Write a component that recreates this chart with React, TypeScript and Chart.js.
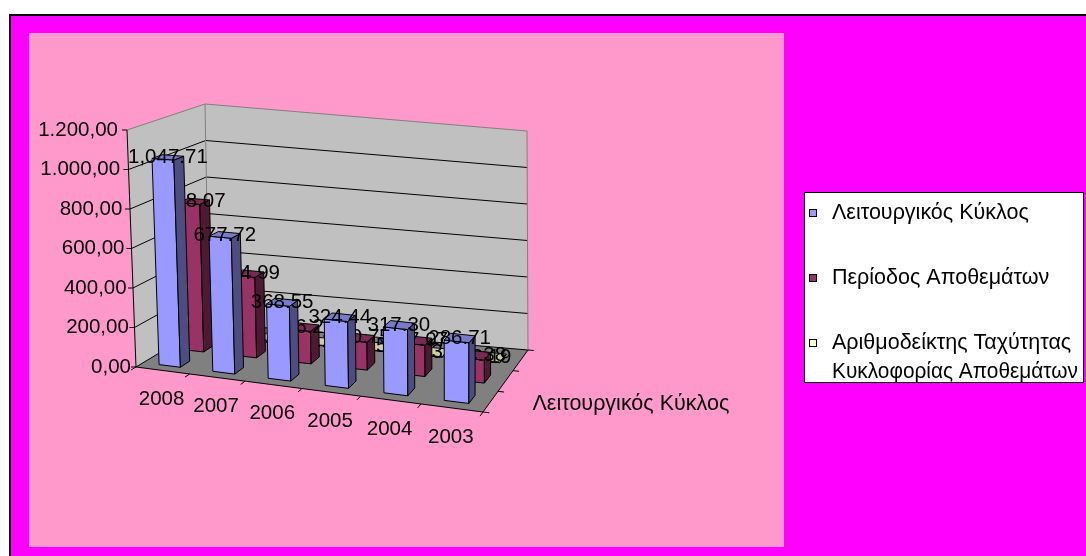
import { useEffect, useRef } from 'react';
import { Chart, registerables } from 'chart.js';

Chart.register(...registerables);

// ---- data ----
const categories = ['2008', '2007', '2006', '2005', '2004', '2003'];
const seriesNames = [
  'Λειτουργικός Κύκλος',
  'Περίοδος Αποθεμάτων',
  'Αριθμοδείκτης Ταχύτητας Κυκλοφορίας Αποθεμάτων',
];
const operatingCycle = [1047.71, 677.72, 368.55, 324.44, 317.3, 286.71];
const inventoryDays = [768.07, 414.99, 166.22, 140.75, 157.07, 114.38];
const inventoryTurnover = [0.48, 0.88, 2.2, 2.59, 2.32, 3.19];
const valueAxisMax = 1200;
const valueAxisStep = 200;

// ---- styles ----
const seriesColors = ['#9999FF', '#993366', '#FFFFCC'];
const W = 1086;
const H = 556;
const NUM_FONT = '20.5px "Liberation Sans", Arial, sans-serif';
const TEXT_FONT = '21.5px "Liberation Sans", Arial, sans-serif';
const WALL = '#C0C0C0';
const FLOOR = '#808080';
const EDGE = '#808080';

// Screen anchors of the eight corners of the 3D plot box
const FRAME = {
  floorFrontLeft: [136, 367],
  floorFrontRight: [483, 412],
  floorBackLeft: [209, 323],
  floorBackRight: [528, 350],
  topFrontLeft: [127, 130],
  topFrontRight: [484, 153],
  topBackLeft: [205, 104],
  topBackRight: [527, 131],
};
// Growth of the category spacing from the left to the right end of the floor
const FORESHORTEN = 0.095;

// X in category units, Y as a fraction of the value axis, Z in series slots (0 = front)
function buildProjection(nx: number, nz: number) {
  const f = FRAME;
  const warp = (X: number) => {
    const t = X / nx;
    return (t + FORESHORTEN * t * t) / (1 + FORESHORTEN);
  };
  const bil = (a: number, b: number, c: number, d: number, u: number, w: number) =>
    a * (1 - u) * (1 - w) + b * u * (1 - w) + c * (1 - u) * w + d * u * w;
  const vFL = [f.topFrontLeft[0] - f.floorFrontLeft[0], f.topFrontLeft[1] - f.floorFrontLeft[1]];
  const vFR = [f.topFrontRight[0] - f.floorFrontRight[0], f.topFrontRight[1] - f.floorFrontRight[1]];
  const vBL = [f.topBackLeft[0] - f.floorBackLeft[0], f.topBackLeft[1] - f.floorBackLeft[1]];
  const vBR = [f.topBackRight[0] - f.floorBackRight[0], f.topBackRight[1] - f.floorBackRight[1]];
  return (X: number, Y: number, Z: number): [number, number] => {
    const u = warp(X);
    const w = Z / nz;
    const px = bil(f.floorFrontLeft[0], f.floorFrontRight[0], f.floorBackLeft[0], f.floorBackRight[0], u, w);
    const py = bil(f.floorFrontLeft[1], f.floorFrontRight[1], f.floorBackLeft[1], f.floorBackRight[1], u, w);
    const vx = bil(vFL[0], vFR[0], vBL[0], vBR[0], u, w);
    const vy = bil(vFL[1], vFR[1], vBL[1], vBR[1], u, w);
    return [px + Y * vx, py + Y * vy];
  };
}

function groupThousands(s: string, sep: string) {
  return s.replace(/\B(?=(\d{3})+(?!\d))/g, sep);
}
function fmtAxis(v: number) {
  const [i, d] = v.toFixed(2).split('.');
  return groupThousands(i, '.') + ',' + d;
}
function fmtLabel(v: number) {
  const [i, d] = v.toFixed(2).split('.');
  return groupThousands(i, ',') + '.' + d;
}
function shade(hex: string, f: number) {
  const n = parseInt(hex.slice(1), 16);
  const r = Math.round(((n >> 16) & 255) * f);
  const g = Math.round(((n >> 8) & 255) * f);
  const b = Math.round((n & 255) * f);
  return `rgb(${r},${g},${b})`;
}

type Pt = [number, number];

function poly(ctx: CanvasRenderingContext2D, pts: Pt[], fill: string | null, stroke: string | null) {
  ctx.beginPath();
  pts.forEach(([x, y], i) => (i ? ctx.lineTo(x, y) : ctx.moveTo(x, y)));
  ctx.closePath();
  if (fill) {
    ctx.fillStyle = fill;
    ctx.fill();
  }
  if (stroke) {
    ctx.strokeStyle = stroke;
    ctx.lineWidth = 1;
    ctx.stroke();
  }
}
function line(ctx: CanvasRenderingContext2D, pts: Pt[], color: string, width = 1) {
  ctx.beginPath();
  pts.forEach(([x, y], i) => (i ? ctx.lineTo(x, y) : ctx.moveTo(x, y)));
  ctx.strokeStyle = color;
  ctx.lineWidth = width;
  ctx.stroke();
}

const frame3d = {
  id: 'frame3d',
  beforeDraw(chart: any) {
    const ctx: CanvasRenderingContext2D = chart.ctx;
    ctx.save();
    ctx.fillStyle = '#FFFFFF';
    ctx.fillRect(0, 0, W, H);
    ctx.fillStyle = '#000000';
    ctx.fillRect(9, 14, W - 9, H - 14);
    ctx.fillStyle = '#FF00FF';
    ctx.fillRect(11, 16, W - 11, H - 16);
    ctx.fillStyle = '#FF99CC';
    ctx.fillRect(29, 33, 755, 514);
    ctx.restore();
  },
  beforeDatasetsDraw() {
    return false;
  },
  afterDraw(chart: any) {
    const ctx: CanvasRenderingContext2D = chart.ctx;
    const xs = chart.scales.x;
    const ys = chart.scales.y;
    const nx = chart.data.labels.length;
    const nz = chart.data.datasets.length;
    const P = buildProjection(nx, nz);
    const wx = (px: number) => ((px - xs.left) / (xs.right - xs.left)) * nx;
    const wy = (py: number) => (ys.bottom - py) / (ys.bottom - ys.top);

    ctx.save();
    ctx.lineJoin = 'miter';

    // walls and floor
    poly(ctx, [P(0, 0, 0), P(0, 0, nz), P(0, 1, nz), P(0, 1, 0)], WALL, null);
    poly(ctx, [P(0, 0, nz), P(nx, 0, nz), P(nx, 1, nz), P(0, 1, nz)], WALL, null);
    poly(ctx, [P(0, 0, 0), P(nx, 0, 0), P(nx, 0, nz), P(0, 0, nz)], FLOOR, null);

    // gridlines on the side and back walls
    let tickValues: number[] = (ys.ticks || []).map((t: any) => t.value);
    if (!tickValues.length) {
      tickValues = [];
      for (let v = 0; v <= valueAxisMax; v += valueAxisStep) tickValues.push(v);
    }
    for (const v of tickValues) {
      if (v >= ys.max) continue;
      const Y = wy(ys.getPixelForValue(v));
      line(ctx, [P(0, Y, 0), P(0, Y, nz), P(nx, Y, nz)], '#000000');
    }
    // wall outline
    line(ctx, [P(0, 1, 0), P(0, 1, nz), P(nx, 1, nz), P(nx, 0, nz)], EDGE);
    line(ctx, [P(0, 0, nz), P(0, 1, nz)], EDGE);

    // axes
    line(ctx, [P(0, 1, 0), P(0, 0, 0), P(nx, 0, 0), P(nx, 0, nz)], '#000000');

    ctx.font = NUM_FONT;
    ctx.fillStyle = '#000000';

    // value axis ticks and labels
    ctx.textAlign = 'right';
    ctx.textBaseline = 'middle';
    for (const v of tickValues) {
      const Y = wy(ys.getPixelForValue(v));
      const [ax, ay] = P(0, Y, 0);
      line(ctx, [[ax - 5, ay], [ax, ay]], '#000000');
      ctx.fillText(fmtAxis(v), ax - 5 - 4 * Y, ay);
    }

    // category ticks and labels
    for (let i = 0; i <= nx; i++) {
      line(ctx, [P(i, 0, 0), P(i, 0, -0.2)], '#000000');
    }
    ctx.textAlign = 'center';
    for (let i = 0; i < nx; i++) {
      const X = wx(xs.getPixelForValue(i));
      const [cx, cy] = P(X, 0, 0);
      ctx.fillText(String(chart.data.labels[i]), cx - 1, cy + 29);
    }

    // depth (series) axis ticks; only the first series name has room
    for (let d = 0; d <= nz; d++) {
      line(ctx, [P(nx, 0, d), P(nx + 0.1, 0, d)], '#000000');
    }
    {
      const [dx, dy] = P(nx, 0, 0.5);
      ctx.font = TEXT_FONT;
      ctx.textAlign = 'left';
      ctx.fillText(chart.data.datasets[0].label, dx + 42, dy + 2);
      ctx.font = NUM_FONT;
    }

    // bars, drawn from the back series to the front, left to right
    for (let d = nz - 1; d >= 0; d--) {
      const meta = chart.getDatasetMeta(d);
      const color: string = chart.data.datasets[d].backgroundColor;
      const boxes: { xc: number; top: number; zc: number; value: number }[] = [];
      meta.data.forEach((el: any, i: number) => {
        const xc = wx(el.x);
        const half = (el.width / (xs.right - xs.left)) * nx * 0.5;
        const top = wy(el.y);
        const base = wy(el.base);
        const zc = d + 0.5;
        const x0 = xc - half, x1 = xc + half;
        const z0 = zc - half, z1 = zc + half;
        const y0 = base, y1 = top;
        const faces: { pts: number[][]; f: number }[] = [
          { pts: [[x0, y0, z0], [x1, y0, z0], [x1, y1, z0], [x0, y1, z0]], f: 1 },
          { pts: [[x1, y0, z1], [x0, y0, z1], [x0, y1, z1], [x1, y1, z1]], f: 1 },
          { pts: [[x0, y0, z1], [x0, y0, z0], [x0, y1, z0], [x0, y1, z1]], f: 0.5 },
          { pts: [[x1, y0, z0], [x1, y0, z1], [x1, y1, z1], [x1, y1, z0]], f: 0.5 },
          { pts: [[x0, y1, z0], [x1, y1, z0], [x1, y1, z1], [x0, y1, z1]], f: 0.8 },
        ];
        for (const face of faces) {
          const pts = face.pts.map(([a, b, c]) => P(a, b, c));
          let area = 0;
          for (let k = 0; k < pts.length; k++) {
            const [ax, ay] = pts[k];
            const [bx, by] = pts[(k + 1) % pts.length];
            area += ax * by - bx * ay;
          }
          if (area < -0.01) poly(ctx, pts, shade(color, face.f), '#000000');
        }
        boxes.push({ xc, top, zc, value: chart.data.datasets[d].data[i] });
      });
      ctx.fillStyle = '#000000';
      ctx.textAlign = 'center';
      ctx.textBaseline = 'middle';
      for (const b of boxes) {
        const [lx, ly] = P(b.xc, b.top, b.zc);
        ctx.fillText(fmtLabel(b.value), lx, ly);
      }
    }

    // legend
    const lg = { left: 804, top: 192, right: 1084, bottom: 383 };
    ctx.fillStyle = '#FFFFFF';
    ctx.fillRect(lg.left, lg.top, lg.right - lg.left, lg.bottom - lg.top);
    ctx.strokeStyle = '#000000';
    ctx.lineWidth = 1;
    ctx.strokeRect(lg.left + 0.5, lg.top + 0.5, lg.right - lg.left - 1, lg.bottom - lg.top - 1);
    ctx.font = TEXT_FONT;
    ctx.textAlign = 'left';
    ctx.textBaseline = 'middle';
    const textLeft = 832;
    const lineRoom = lg.right - textLeft - 6;
    const wrapWidth = 262;
    let cy = 213;
    chart.data.datasets.forEach((ds: any) => {
      ctx.fillStyle = ds.backgroundColor;
      ctx.fillRect(809, cy - 4, 8, 8);
      ctx.strokeStyle = '#000000';
      ctx.strokeRect(809.5, cy - 3.5, 7, 7);
      const words = String(ds.label).split(' ');
      const lines: string[] = [];
      let cur = '';
      for (const w of words) {
        const test = cur ? cur + ' ' + w : w;
        if (cur && ctx.measureText(test).width > wrapWidth) {
          lines.push(cur);
          cur = w;
        } else cur = test;
      }
      lines.push(cur);
      ctx.fillStyle = '#000000';
      lines.forEach((t, k) => ctx.fillText(t, textLeft, cy + k * 29, lineRoom));
      cy += 65;
    });

    ctx.restore();
  },
};

export default function App() {
  const ref = useRef<HTMLCanvasElement>(null);
  useEffect(() => {
    const canvas = ref.current;
    if (!canvas) return;
    const chart = new Chart(canvas, {
      type: 'bar',
      data: {
        labels: categories,
        datasets: [
          { label: seriesNames[0], data: operatingCycle, backgroundColor: seriesColors[0] },
          { label: seriesNames[1], data: inventoryDays, backgroundColor: seriesColors[1] },
          { label: seriesNames[2], data: inventoryTurnover, backgroundColor: seriesColors[2] },
        ],
      },
      options: {
        responsive: false,
        animation: false,
        devicePixelRatio: 1,
        events: [],
        layout: { padding: 0 },
        datasets: { bar: { grouped: false, barPercentage: 0.4, categoryPercentage: 1 } },
        scales: {
          x: { type: 'category', display: false, offset: true },
          y: {
            type: 'linear',
            display: false,
            min: 0,
            max: valueAxisMax,
            ticks: { stepSize: valueAxisStep },
          },
        },
        plugins: { legend: { display: false }, tooltip: { enabled: false } },
      },
      plugins: [frame3d],
    } as any);
    return () => chart.destroy();
  }, []);
  return (
    <div style={{ position: 'fixed', left: 0, top: 0, width: W, height: H }}>
      <canvas ref={ref} width={W} height={H} style={{ display: 'block', width: W, height: H }} />
    </div>
  );
}
